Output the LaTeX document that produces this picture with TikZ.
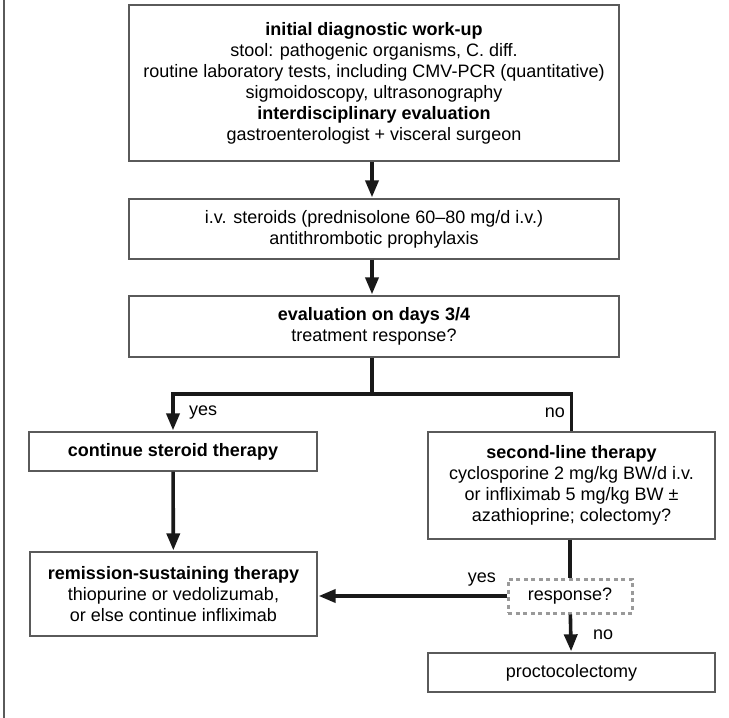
\documentclass[tikz,border=0pt]{standalone}
\usepackage{fontspec}
\setmainfont{Liberation Sans}
\usepackage{xcolor}
\usetikzlibrary{arrows.meta}
\usetikzlibrary{positioning}
\definecolor{boxgray}{HTML}{5A5A5A}
\definecolor{dotgray}{HTML}{9A9A9A}
\tikzset{flowbox/.style={draw=boxgray, line width=1.3pt, align=center, inner sep=0pt,
font=\fontsize{18}{21}\selectfont},
conn/.style={line width=3.6pt, black!90},
connarrow/.style={conn, -{Triangle[length=17pt,width=13pt]}, shorten >=1pt},
answer/.style={font=\fontsize{18}{21}\selectfont, inner sep=0pt}}

\begin{document}
\begin{tikzpicture}[x=1pt, y=-1pt]
	\useasboundingbox (0,0) rectangle (729,718);
	\draw[boxgray, line width=1.5pt] (4,0) -- (4,718);
	\node[flowbox, minimum width=490pt, minimum height=156pt] (workup) at (374,83)
		{\textbf{initial diagnostic work-up}\\
		stool: pathogenic organisms, C. diff.\\
		routine laboratory tests, including CMV-PCR (quantitative)\\
		sigmoidoscopy, ultrasonography\\
		\textbf{interdisciplinary evaluation}\\
		gastroenterologist + visceral surgeon};
	\node[flowbox, minimum width=490pt, minimum height=60pt] (steroids) at (374,229)
		{i.v. steroids (prednisolone 60--80 mg/d i.v.)\\
		antithrombotic prophylaxis};
	\node[flowbox, minimum width=490pt, minimum height=61pt] (evaluation) at (374,326.5)
		{\textbf{evaluation on days 3/4}\\
		treatment response?};
	\node[flowbox, minimum width=288pt, minimum height=39pt] (continue) at (173,451.5)
		{\textbf{continue steroid therapy}};
	\node[flowbox, minimum width=287pt, minimum height=107pt] (secondline) at (571.5,485.5)
		{\textbf{second-line therapy}\\
		cyclosporine 2 mg/kg BW/d i.v.\\
		or infliximab 5 mg/kg BW ±\\
		azathioprine; colectomy?};
	\node[flowbox, minimum width=287pt, minimum height=84pt] (remission) at (173.5,594)
		{\textbf{remission-sustaining therapy}\\
		thiopurine or vedolizumab,\\
		or else continue infliximab};
	\node[flowbox, draw=dotgray, line width=3pt, dash pattern=on 4pt off 3.5pt,
		minimum width=124pt, minimum height=34pt] (response) at (570,596) {response?};
	\node[flowbox, minimum width=287pt, minimum height=39pt] (procto) at (571.5,672.5)
		{proctocolectomy};
	\coordinate (split) at (372,394);

	\draw[connarrow] (workup.south -| split) -- (steroids.north -| split);
	\draw[connarrow] (steroids.south -| split) -- (evaluation.north -| split);
	\draw[conn] (evaluation.south -| split) -- (split);
	\draw[connarrow] (split) -| (continue.north);
	\draw[conn] (split) -| (secondline.north);
	\draw[connarrow] (continue) -- (remission);
	\draw[conn] (secondline.south -| response) -- (response);
	\draw[connarrow] (response.west) -- (response.west -| remission.east);
	\draw[connarrow] (response) -- (procto);

	\node[answer, anchor=west] (yesleft) at (189,413) {yes};
	\node[answer, anchor=east] (noright) at (565,413) {no};
	\node[answer, anchor=east] (yesresp) at (496,580) {yes};
	\node[answer, anchor=west] (noresp) at (593,635) {no};
\end{tikzpicture}
\end{document}
